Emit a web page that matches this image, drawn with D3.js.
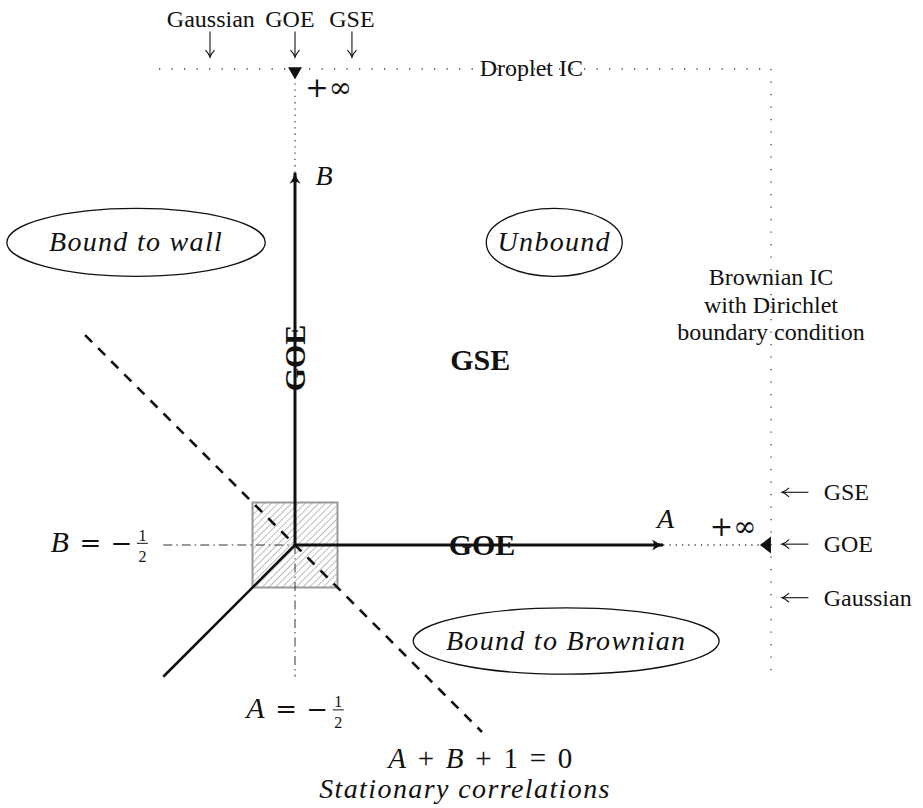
<!DOCTYPE html>
<html><head><meta charset="utf-8">
<script src="https://cdn.jsdelivr.net/npm/d3@7"></script>
<style>
html,body{margin:0;padding:0;background:#fff;}
svg{display:block;}
text{font-family:"Liberation Serif","Times New Roman",serif;fill:#111;}
.op{font-family:"DejaVu Serif",serif;}
</style></head>
<body>
<svg id="c" width="923" height="808"></svg>
<script>
// ---- diagram data, in (A, B) parameter units ----
const boundaryTop   = [[-2.1, 5.1], [5.1, 5.1]];
const boundaryRight = [[5.1, 5.1], [5.1, -2.05]];
const axisA   = [[-0.5, -0.5], [3.83, -0.5]];
const axisB   = [[-0.5, -0.5], [-0.5, 3.88]];
const axisAInf = [[3.83, -0.5], [5.0, -0.5]];
const axisBInf = [[-0.5, 3.88], [-0.5, 5.0]];
const diagonal = [[-0.5, -0.5], [-2.05, -2.05]];
const stationaryLine = [[-2.97, 1.97], [1.7, -2.7]];   // A + B + 1 = 0
const halfLineB = [[-2.05, -0.5], [-0.5, -0.5]];      // B = -1/2
const halfLineA = [[-0.5, -0.5], [-0.5, -2.05]];      // A = -1/2
const hatchSquare = [[-1, 0], [0, -1]];               // [A0,B1],[A1,B0]

const topArrowsA = [-1.5, -0.5, 0.17];
const topArrowLabels = ["Gaussian", "GOE", "GSE"];
const topLabelsA = [-1.49, -0.56, 0.17];
const rightArrowsB = [0.12, -0.49, -1.12];
const rightArrowLabels = ["GSE", "GOE", "Gaussian"];

const ellipses = [
  {label: "Bound to wall", A: -2.37, B: 3.06, rA: 1.52, rB: 0.4},
  {label: "Unbound", A: 2.55, B: 3.06, rA: 0.8, rB: 0.4},
  {label: "Bound to Brownian", A: 2.69, B: -1.63, rA: 1.8, rB: 0.39}
];
const brownianLines = ["Brownian IC", "with Dirichlet", "boundary condition"];
const brownianB = [2.56, 2.23, 1.91];

// ---- scales ----
const x = d3.scaleLinear().domain([-0.5, 5.1]).range([295, 771]);
const y = d3.scaleLinear().domain([-0.5, 5.1]).range([545, 69]);
const svg = d3.select("#c");
const line = d3.line().x(d => x(d[0])).y(d => y(d[1]));

const defs = svg.append("defs");
const pat = defs.append("pattern").attr("id", "hatch").attr("patternUnits", "userSpaceOnUse")
  .attr("width", 4.8).attr("height", 4.8).attr("patternTransform", "rotate(45)");
pat.append("line").attr("x1", 0).attr("y1", 0).attr("x2", 0).attr("y2", 4.8)
  .attr("stroke", "#7a7a7a").attr("stroke-width", 1);
defs.append("marker").attr("id", "big").attr("markerUnits", "userSpaceOnUse")
  .attr("viewBox", "-12 -6 14 12").attr("markerWidth", 14).attr("markerHeight", 12)
  .attr("refX", 0).attr("refY", 0).attr("orient", "auto")
  .append("path").attr("d", "M-11,-5.5 Q-5,-1 1,0 Q-5,1 -11,5.5 Q-7,0 -11,-5.5Z").attr("fill", "#111");
defs.append("marker").attr("id", "small").attr("markerUnits", "userSpaceOnUse")
  .attr("viewBox", "-9 -6 11 12").attr("markerWidth", 11).attr("markerHeight", 12)
  .attr("refX", 0).attr("refY", 0).attr("orient", "auto")
  .append("path").attr("d", "M-7,-4.5 Q-3,-0.8 0,0 Q-3,0.8 -7,4.5").attr("fill", "none")
  .attr("stroke", "#111").attr("stroke-width", 1.1);

// hatched square
svg.append("rect")
  .attr("x", x(hatchSquare[0][0])).attr("y", y(hatchSquare[0][1]))
  .attr("width", x(hatchSquare[1][0]) - x(hatchSquare[0][0]))
  .attr("height", y(hatchSquare[1][1]) - y(hatchSquare[0][1]))
  .attr("fill", "url(#hatch)").attr("stroke", "#999").attr("stroke-width", 2);

// dotted boundaries
[boundaryTop, boundaryRight].forEach(p => svg.append("path").attr("d", line(p))
  .attr("fill", "none").attr("stroke", "#444").attr("stroke-width", 1.3)
  .attr("stroke-dasharray", "1.3,11.2"));
[axisAInf, axisBInf].forEach(p => svg.append("path").attr("d", line(p))
  .attr("fill", "none").attr("stroke", "#444").attr("stroke-width", 1.3)
  .attr("stroke-dasharray", "1.3,5"));

// dash-dot lines
[halfLineB, halfLineA].forEach(p => svg.append("path").attr("d", line(p))
  .attr("fill", "none").attr("stroke", "#333").attr("stroke-width", 1)
  .attr("stroke-dasharray", "9,4,1.5,4"));

// dashed stationary line
svg.append("path").attr("d", line(stationaryLine)).attr("fill", "none")
  .attr("stroke", "#111").attr("stroke-width", 2.6).attr("stroke-dasharray", "10,8.5");

// diagonal
svg.append("path").attr("d", line(diagonal)).attr("fill", "none")
  .attr("stroke", "#111").attr("stroke-width", 2.6);

// axes
[axisA, axisB].forEach(p => svg.append("path").attr("d", line(p)).attr("fill", "none")
  .attr("stroke", "#111").attr("stroke-width", 3).attr("marker-end", "url(#big)"));

// infinity triangles
const tri = (tip, dir) => {
  const tx = x(tip[0]), ty = y(tip[1]);
  const pts = dir === "down"
    ? [[tx, ty], [tx - 7, ty - 12], [tx + 7, ty - 12]]
    : [[tx, ty], [tx + 11, ty - 8.5], [tx + 11, ty + 8.5]];
  svg.append("path").attr("d", "M" + pts.join("L") + "Z").attr("fill", "#111");
};
tri([-0.5, 4.98], "down");
tri([4.97, -0.5], "left");

// small arrows top
topArrowsA.forEach(a => svg.append("path").attr("d", line([[a, 5.54], [a, 5.24]]))
  .attr("stroke", "#111").attr("stroke-width", 1.1).attr("marker-end", "url(#small)"));
topArrowLabels.forEach((t, i) => svg.append("text").attr("x", x(topLabelsA[i])).attr("y", y(5.59))
  .attr("text-anchor", "middle").attr("font-size", 24).text(t));

// small arrows right
rightArrowsB.forEach(b => svg.append("path").attr("d", line([[5.54, b], [5.23, b]]))
  .attr("stroke", "#111").attr("stroke-width", 1.1).attr("marker-end", "url(#small)"));
rightArrowLabels.forEach((t, i) => svg.append("text").attr("x", x(5.72)).attr("y", y(rightArrowsB[i]) + 8)
  .attr("font-size", 24).text(t));

// ellipses
ellipses.forEach(e => {
  svg.append("ellipse").attr("cx", x(e.A)).attr("cy", y(e.B))
    .attr("rx", x(e.rA) - x(0)).attr("ry", y(0) - y(e.rB))
    .attr("fill", "none").attr("stroke", "#111").attr("stroke-width", 1.3);
  svg.append("text").attr("x", x(e.A)).attr("y", y(e.B) + 9).attr("text-anchor", "middle")
    .attr("font-size", 28).attr("font-style", "italic").attr("letter-spacing", 1.3).text(e.label);
});

// Brownian IC text
brownianLines.forEach((t, i) => svg.append("text").attr("x", x(5.1)).attr("y", y(brownianB[i]))
  .attr("text-anchor", "middle").attr("font-size", 24).text(t));

// Droplet IC
svg.append("text").attr("x", x(2.28)).attr("y", y(5.02)).attr("text-anchor", "middle")
  .attr("font-size", 24).text("Droplet IC");

// +infinity labels
svg.append("text").attr("class", "op").attr("x", x(-0.38)).attr("y", y(4.77)).attr("font-size", 28).text("+∞");
svg.append("text").attr("class", "op").attr("x", x(4.38)).attr("y", y(-0.39)).attr("font-size", 28).text("+∞");

// axis letters
svg.append("text").attr("x", x(-0.26)).attr("y", y(3.74)).attr("font-size", 28)
  .attr("font-style", "italic").text("B");
svg.append("text").attr("x", x(3.76)).attr("y", y(-0.3)).attr("font-size", 28)
  .attr("font-style", "italic").text("A");

// bold ensemble labels
svg.append("text").attr("x", x(1.68)).attr("y", y(1.56)).attr("text-anchor", "middle")
  .attr("font-size", 30).attr("font-weight", "bold").text("GSE");
svg.append("text").attr("x", x(1.7)).attr("y", y(-0.62)).attr("text-anchor", "middle")
  .attr("font-size", 30).attr("font-weight", "bold").text("GOE");
svg.append("text").attr("transform", `translate(${x(-0.5) + 10},${y(1.7)}) rotate(-90)`)
  .attr("text-anchor", "middle").attr("font-size", 30).attr("font-weight", "bold").text("GOE");

// math labels "X = -1/2" laid out piece by piece
function halfLabel(letter, ax, bx, anchor) {
  const g = svg.append("g");
  g.append("text").attr("x", 0).attr("y", 0).attr("font-size", 30).attr("font-style", "italic").text(letter);
  g.append("text").attr("class", "op").attr("x", 29).attr("y", 0).attr("font-size", 26).text("=");
  g.append("text").attr("class", "op").attr("x", 60).attr("y", 0).attr("font-size", 26).text("−");
  g.append("text").attr("x", 92).attr("y", -11).attr("text-anchor", "middle").attr("font-size", 16).text("1");
  g.append("line").attr("x1", 86.5).attr("x2", 97.5).attr("y1", -8.5).attr("y2", -8.5)
    .attr("stroke", "#111").attr("stroke-width", 1);
  g.append("text").attr("x", 92).attr("y", 10).attr("text-anchor", "middle").attr("font-size", 16).text("2");
  const total = 97.5;
  const shift = anchor === "end" ? -total : -total / 2;
  g.attr("transform", `translate(${x(ax) + shift},${y(bx)})`);
}
halfLabel("B", -2.23, -0.58, "end");
halfLabel("A", -0.5, -2.54, "middle");

const eq = svg.append("text").attr("x", x(1.68)).attr("y", y(-3.12)).attr("text-anchor", "middle")
  .attr("font-size", 29).attr("word-spacing", 4.5);
eq.append("tspan").attr("font-style", "italic").text("A");
eq.append("tspan").text(" + ");
eq.append("tspan").attr("font-style", "italic").text("B");
eq.append("tspan").text(" + 1 = 0");

svg.append("text").attr("x", x(1.5)).attr("y", y(-3.48)).attr("text-anchor", "middle")
  .attr("font-size", 28).attr("font-style", "italic").attr("letter-spacing", 1.4)
  .text("Stationary correlations");
</script>
</body></html>
